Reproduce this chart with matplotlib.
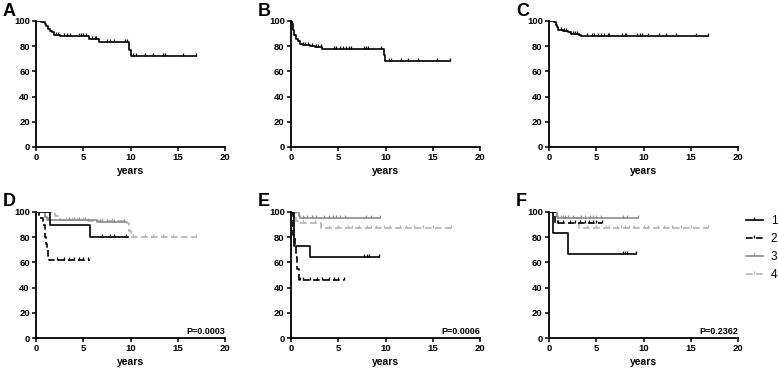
import numpy as np
import matplotlib
matplotlib.use("Agg")
import matplotlib.pyplot as plt
from matplotlib.path import Path
from matplotlib.lines import Line2D

plt.rcParams['font.family'] = ['Liberation Sans', 'DejaVu Sans']
plt.rcParams['font.weight'] = 'bold'

# ---------------- data ----------------
# Panel A
A_t = [0.5, 0.9, 1.1, 1.3, 1.5, 1.7, 1.9, 2.5, 5.6, 6.7, 9.8, 10.0]
A_s = [99, 98, 96, 94, 92, 91, 89, 88, 86, 83, 77, 72]
A_end = 16.9
A_c = [2.1, 2.3, 3.0, 3.3, 3.6, 4.5, 4.8, 5.0, 5.3, 5.9, 6.2, 6.4, 7.5, 7.8,
       8.3, 9.4, 9.6, 10.3, 10.6, 11.5, 12.4, 13.4, 13.6, 15.6, 16.9]

# Panel B
B_t = [0.1, 0.2, 0.35, 0.5, 0.7, 1.0, 1.3, 2.0, 2.5, 3.3, 9.8, 9.9]
B_s = [98, 93, 89, 86, 84, 82, 81, 80, 79, 78, 73, 68]
B_end = 16.8
B_c = [1.3, 1.5, 1.8, 2.2, 2.6, 2.9, 3.2, 4.5, 4.8, 5.2, 5.5, 5.8, 6.1, 6.3,
       7.7, 7.9, 8.1, 9.5, 10.4, 10.6, 11.6, 12.4, 13.4, 15.5, 16.8]

# Panel C
C_t = [0.5, 0.7, 0.8, 1.0, 1.5, 2.0, 2.3, 3.2, 3.4]
C_s = [99, 97, 95, 93, 92, 91, 90, 89, 88]
C_end = 16.8
C_c = [1.3, 1.6, 1.8, 2.5, 2.8, 3.0, 4.0, 4.5, 4.8, 5.2, 5.5, 5.8, 6.2, 6.4,
       7.7, 8.0, 8.2, 9.3, 9.6, 9.8, 10.5, 11.6, 12.4, 13.4, 15.6, 16.8]

# Panel D (groups 1-4)
D1_t, D1_s, D1_end, D1_c = [1.5, 5.7], [90, 80], 9.7, [7.0, 7.8, 8.3, 9.5]
D2_t = [0.3, 0.7, 0.9, 1.0, 1.1, 1.2, 1.3, 1.4]
D2_s = [95, 90, 85, 80, 75, 70, 65, 62]
D2_end, D2_c = 5.7, [2.2, 3.0, 3.5, 4.0, 4.5, 5.0, 5.5]
D3_t, D3_s, D3_end = [0.9, 1.2, 6.5], [96, 94, 92], 9.5
D3_c = [1.0, 1.3, 3.5, 4.0, 4.5, 5.2, 6.8, 7.5, 8.3, 9.3]
D4_t, D4_s, D4_end = [2.0, 2.5, 5.5, 9.6, 9.8, 10.0], [97, 94, 93, 91, 85, 80], 17.0
D4_c = [1.0, 1.5, 2.0, 3.2, 3.8, 4.3, 5.0, 5.5, 7.0, 8.0, 10.3, 11.5, 12.4,
        13.4, 14.5, 16.9]

# Panel E
E1_t, E1_s, E1_end, E1_c = [0.3, 2.0], [73, 64], 9.3, [7.7, 8.0, 8.3, 9.3]
E2_t = [0.2, 0.4, 0.5, 0.6, 0.8]
E2_s = [82, 73, 64, 55, 46]
E2_end, E2_c = 5.6, [1.0, 1.3, 2.0, 2.7, 3.3, 4.0, 4.5, 5.0, 5.6]
E3_t, E3_s, E3_end = [0.8, 1.0], [97, 95], 9.4
E3_c = [1.3, 1.7, 2.2, 2.6, 3.5, 4.0, 4.4, 4.8, 5.2, 5.7, 7.9, 8.5, 9.4]
E4_t, E4_s, E4_end = [0.5, 1.0, 3.2], [93, 91, 87], 16.9
E4_c = [1.3, 2.5, 4.0, 5.0, 6.0, 6.5, 7.2, 8.0, 8.5, 9.0, 9.8, 10.5, 11.5,
        12.2, 13.0, 14.0, 15.0, 16.9]

# Panel F
F1_t, F1_s, F1_end, F1_c = [0.4, 2.0], [83, 67], 9.2, [7.8, 8.0, 8.3, 9.2]
F2_t, F2_s, F2_end = [0.6], [91], 5.6
F2_c = [0.8, 1.0, 1.5, 2.2, 2.7, 3.3, 3.8, 4.2, 4.7, 5.0, 5.6]
F3_t, F3_s, F3_end = [0.8, 1.0], [97, 95], 9.4
F3_c = [1.3, 1.5, 1.7, 2.0, 2.5, 3.4, 3.8, 4.3, 4.7, 5.0, 5.5, 7.8, 8.3, 9.4]
F4_t, F4_s, F4_end = [0.8, 3.2], [95, 87], 16.8
F4_c = [4.0, 5.0, 6.0, 6.3, 7.2, 7.6, 8.0, 8.5, 9.0, 10.0, 10.5, 11.5,
        12.2, 13.0, 14.0, 15.0, 16.8]

panel_letters = ['A', 'B', 'C', 'D', 'E', 'F']
p_values = ['P=0.0003', 'P=0.0006', 'P=0.2362']
legend_labels = ['1', '2', '3', '4']
x_ticks = [0, 5, 10, 15, 20]
y_ticks = [0, 20, 40, 60, 80, 100]

# ---------------- styles ----------------
styles = [
    dict(color='black', ls='-'),
    dict(color='black', ls=(0, (4, 2))),
    dict(color='#8c8c8c', ls='-'),
    dict(color='#b4b4b4', ls=(0, (4, 2))),
]
cens_marker = Path([(0, 0), (0, 1)], [Path.MOVETO, Path.LINETO])


def km(ax, t, s, end, c, st):
    tt = np.concatenate([[0.0], t, [end]])
    ss = np.concatenate([[100.0], s, [s[-1]]])
    ax.step(tt, ss, where='post', lw=1.2, color=st['color'], linestyle=st['ls'])
    c = np.asarray(c, float)
    idx = np.searchsorted(np.asarray(t, float), c, side='right')
    cs = np.concatenate([[100.0], s])[idx]
    ax.plot(c, cs, linestyle='none', marker=cens_marker, ms=4, mew=0.9,
            color=st['color'])


fig = plt.figure(figsize=(7.78, 3.68), dpi=100)
W, H = 778.0, 368.0
lefts = [36, 291, 549]
width = 189
tops = [21, 212]
height = 126

axes = []
for r in range(2):
    for cc in range(3):
        ax = fig.add_axes([lefts[cc] / W, 1 - (tops[r] + height) / H,
                           width / W, height / H])
        axes.append(ax)

single = [(A_t, A_s, A_end, A_c), (B_t, B_s, B_end, B_c), (C_t, C_s, C_end, C_c)]
groups = [
    [(D1_t, D1_s, D1_end, D1_c), (D2_t, D2_s, D2_end, D2_c),
     (D3_t, D3_s, D3_end, D3_c), (D4_t, D4_s, D4_end, D4_c)],
    [(E1_t, E1_s, E1_end, E1_c), (E2_t, E2_s, E2_end, E2_c),
     (E3_t, E3_s, E3_end, E3_c), (E4_t, E4_s, E4_end, E4_c)],
    [(F1_t, F1_s, F1_end, F1_c), (F2_t, F2_s, F2_end, F2_c),
     (F3_t, F3_s, F3_end, F3_c), (F4_t, F4_s, F4_end, F4_c)],
]

for i, ax in enumerate(axes[:3]):
    km(ax, *single[i], styles[0])

for j, ax in enumerate(axes[3:]):
    for k in [3, 2, 1, 0]:
        km(ax, *groups[j][k], styles[k])
    ax.text(1.0, 0.05, p_values[j], transform=ax.transAxes, ha='right',
            va='center', fontsize=6.5, fontweight='bold')

for i, ax in enumerate(axes):
    ax.set_xlim(0, 20)
    ax.set_ylim(0, 100)
    ax.set_xticks(x_ticks)
    ax.set_yticks(y_ticks)
    for s in ['top', 'right']:
        ax.spines[s].set_visible(False)
    for s in ['left', 'bottom']:
        ax.spines[s].set_linewidth(1.3)
    ax.tick_params(axis='both', direction='out', length=3, width=1.1,
                   labelsize=6.8, pad=1.5)
    for lab in ax.get_xticklabels() + ax.get_yticklabels():
        lab.set_fontweight('bold')
    ax.set_xlabel('years', fontsize=7.5, fontweight='bold', labelpad=3)
    fig.text((lefts[i % 3] - 33) / W, 1 - (tops[i // 3] - 10) / H,
             panel_letters[i], fontsize=13, fontweight='bold', ha='left',
             va='center')

# legend for panel F
handles = [Line2D([], [], color=st['color'], linestyle=st['ls'], lw=1.2,
                  marker=cens_marker, ms=4, mew=0.9) for st in styles]
fig.legend(handles, legend_labels, loc='upper left',
           bbox_to_anchor=(746 / W, 1 - 215 / H), frameon=False,
           borderpad=0, borderaxespad=0, numpoints=1,
           handlelength=1.4, handletextpad=0.7, labelspacing=0.5,
           prop=dict(family='Liberation Sans', size=8.5, weight='normal'))

fig.savefig('out.png', dpi=100)
